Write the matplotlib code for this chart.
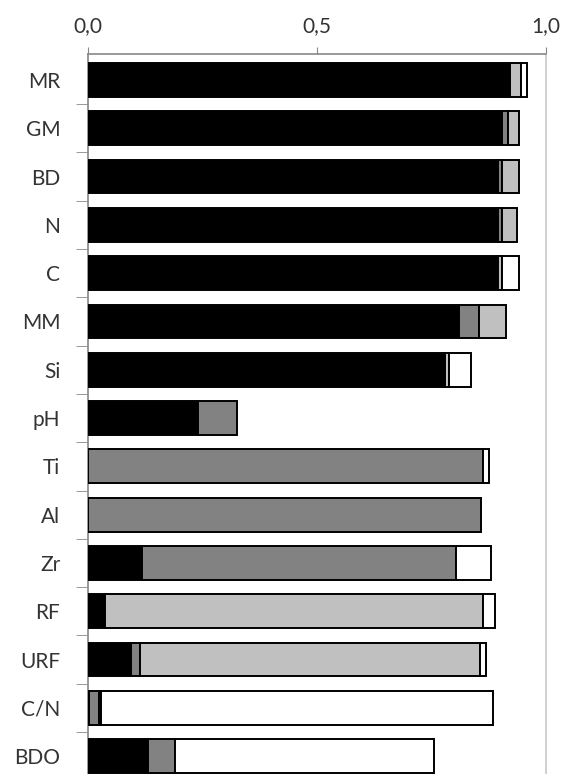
import matplotlib
matplotlib.use("Agg")
import matplotlib.pyplot as plt
import numpy as np

categories = ["MR", "GM", "BD", "N", "C", "MM", "Si", "pH", "Ti", "Al",
              "Zr", "RF", "URF", "C/N", "BDO"]
black_part = [0.921, 0.903, 0.895, 0.895, 0.895, 0.810, 0.780, 0.240, 0.0, 0.0,
              0.118, 0.037, 0.094, 0.003, 0.131]
grey_part = [0.0, 0.013, 0.010, 0.008, 0.0, 0.044, 0.0, 0.085, 0.862, 0.858,
             0.686, 0.0, 0.020, 0.020, 0.059]
light_part = [0.024, 0.026, 0.037, 0.034, 0.008, 0.059, 0.009, 0.0, 0.0, 0.0,
              0.0, 0.825, 0.742, 0.006, 0.0]
white_part = [0.013, 0.0, 0.0, 0.0, 0.037, 0.0, 0.048, 0.0, 0.013, 0.0,
              0.076, 0.026, 0.013, 0.856, 0.565]
xticks = [0.0, 0.5, 1.0]
xtick_labels = ["0,0", "0,5", "1,0"]

series = [black_part, grey_part, light_part, white_part]
colors = ["#000000", "#828282", "#c0c0c0", "#ffffff"]

plt.rcParams['font.family'] = ['Lato', 'DejaVu Sans']

W, H = 563, 774
fig = plt.figure(figsize=(W / 100, H / 100), dpi=100)
left_px, right_px, top_px, bot_px = 88, 546, 54, 774
ax = fig.add_axes([left_px / W, 1 - bot_px / H, (right_px - left_px) / W, (bot_px - top_px) / H])

y = np.arange(len(categories))
left = np.zeros(len(categories))
for vals, col in zip(series, colors):
    v = np.array(vals)
    mask = v > 0
    ax.barh(y[mask], v[mask], left=left[mask], height=0.7, color=col,
            edgecolor="black", linewidth=1.4, zorder=3)
    left += v

ax.set_xlim(0, 1.0)
ax.set_ylim(14.37, -0.538)
ax.xaxis.tick_top()
ax.set_xticks(xticks)
ax.set_xticklabels(xtick_labels, fontsize=15, color="#333333")
ax.tick_params(axis="x", direction="out", length=5, color="#888888", pad=8)

ax.set_yticks(y)
ax.set_yticklabels(categories, fontsize=15, color="#333333")
ax.tick_params(axis="y", length=0, pad=20)
ax.set_yticks(np.arange(0.5, len(categories) - 0.5, 1.0), minor=True)
ax.tick_params(axis="y", which="minor", length=9, color="#888888", direction="out")

ax.spines["bottom"].set_visible(False)
ax.spines["top"].set_color("#888888")
ax.spines["left"].set_color("#888888")
ax.spines["right"].set_color("#c8c8c8")
for s in ["top", "left", "right"]:
    ax.spines[s].set_linewidth(1.2)

fig.savefig("out.png", dpi=100)
